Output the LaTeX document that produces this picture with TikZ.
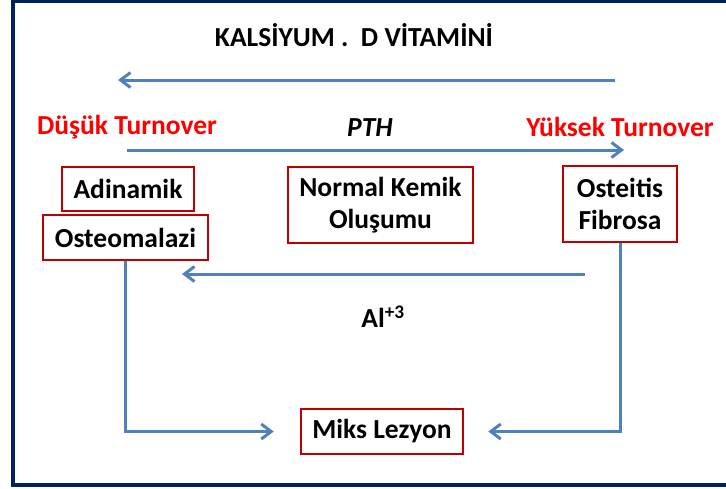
\documentclass[tikz,border=0pt]{standalone}
\usepackage{fontspec}
\setmainfont{Carlito}
\usetikzlibrary{arrows.meta}
\definecolor{navyframe}{RGB}{0,32,96}
\definecolor{arrowblue}{RGB}{79,129,189}
\definecolor{boxred}{RGB}{192,0,0}

\begin{document}
\begin{tikzpicture}[
  x=1pt, y=-1pt,
  lbl/.style={font=\fontsize{27.5}{32}\selectfont\bfseries, inner sep=0pt},
  redlbl/.style={lbl, text=red},
  kutu/.style={draw=boxred, line width=2.5pt, fill=white, align=center, inner sep=0pt, font=\fontsize{27.5}{32}\selectfont\bfseries},
  ok/.style={draw=arrowblue, line width=3pt, -{Straight Barb[length=10pt,width=15pt]}}
]
\useasboundingbox (0,0) rectangle (726,488);
% frame
\draw[navyframe, line width=4pt] (730,1) -- (13,1) -- (13,485) -- (730,485);

% top labels
\node[lbl] (title) at (354,35) {KALS\.IYUM .\ \ D V\.ITAM\.IN\.I};
\node[redlbl] (dusuk) at (127,127) {Düşük Turnover};
\node[lbl, font=\fontsize{27.5}{32}\selectfont\bfseries\itshape] (pth) at (370,128) {PTH};
\node[redlbl] (yuksek) at (620,127) {Yüksek Turnover};
\node[lbl] (al) at (383,317) {Al\textsuperscript{+3}};

% boxes
\node[kutu, minimum width=132pt, minimum height=44pt] (adin) at (128,189) {Adinamik};
\node[kutu, minimum width=165pt, minimum height=45pt] (osteo) at (125.5,237.5) {Osteomalazi};
\node[kutu, minimum width=185pt, minimum height=76pt] (normal) at (380.5,205) {Normal Kemik\\Oluşumu};
\node[kutu, minimum width=114pt, minimum height=76pt] (fib) at (620,204) {Osteitis\\Fibrosa};
\node[kutu, minimum width=162pt, minimum height=45pt] (miks) at (382,431.5) {Miks Lezyon};

% free arrow ends
\coordinate (kalR) at (615,80);
\coordinate (kalL) at (118,80);
\coordinate (pthL) at (127,150);
\coordinate (pthR) at (624,150);
\coordinate (alR) at (585,274);
\coordinate (alL) at (182,274);

\draw[ok] (kalR) -- (kalL);
\draw[ok] (pthL) -- (pthR);
\draw[ok] (alR) -- (alL);
\draw[ok, shorten >=26pt] (osteo.south) |- (miks.west);
\draw[ok, shorten >=24pt] (fib.south) |- (miks.east);
\end{tikzpicture}
\end{document}
